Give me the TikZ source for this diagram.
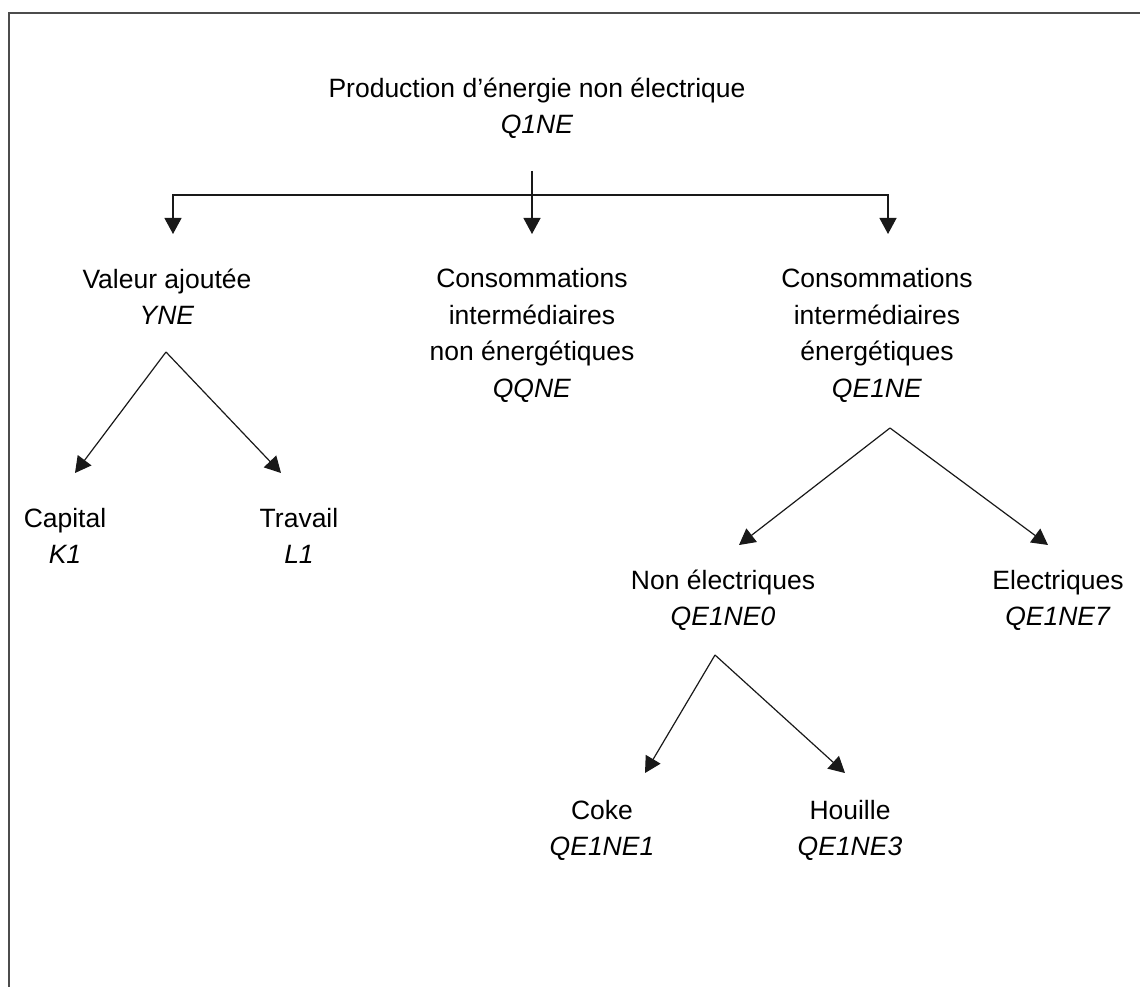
\documentclass[tikz,border=0pt]{standalone}
\usepackage{fontspec}
\setmainfont{Liberation Sans}
\usetikzlibrary{arrows.meta}
\begin{document}
\begin{tikzpicture}[x=1pt,y=-1pt,
  lbl/.style={inner sep=0pt,align=center,font=\fontsize{26.5}{36.5}\selectfont},
  link/.style={line width=1.2pt,draw=black!90},
  arr/.style={link,-{Triangle[length=16pt,width=17pt]}},
  frame/.style={line width=2pt,draw=black!70}]
\useasboundingbox (0,0) rectangle (1140,987);
% page frame (top and left edges)
\draw[frame] (9,987) -- (9,13) -- (1140,13);

% labels
\node[lbl] (prod)  at (537,108)  {\strut Production d’énergie non électrique\\\strut\textit{Q1NE}};
\node[lbl] (va)    at (167,299)  {\strut Valeur ajoutée\\\strut\textit{YNE}};
\node[lbl] (cine)  at (532,335)  {\strut Consommations\\\strut intermédiaires\\\strut non énergétiques\\\strut\textit{QQNE}};
\node[lbl] (cie)   at (877,335)  {\strut Consommations\\\strut intermédiaires\\\strut énergétiques\\\strut\textit{QE1NE}};
\node[lbl] (cap)   at (65,538)   {\strut Capital\\\strut\textit{K1}};
\node[lbl] (trav)  at (299,538)  {\strut Travail\\\strut\textit{L1}};
\node[lbl] (nonel) at (723,600)  {\strut Non électriques\\\strut\textit{QE1NE0}};
\node[lbl] (elec)  at (1058,600) {\strut Electriques\\\strut\textit{QE1NE7}};
\node[lbl] (coke)  at (602,830)  {\strut Coke\\\strut\textit{QE1NE1}};
\node[lbl] (houil) at (850,830)  {\strut Houille\\\strut\textit{QE1NE3}};

% branching points and arrow ends
\coordinate (prod-out) at (532,171);
\coordinate (split)    at (532,195);
\coordinate (va-in)    at (173,234);
\coordinate (cine-in)  at (532,234);
\coordinate (cie-in)   at (888,234);
\coordinate (va-out)   at (166,352);
\coordinate (cap-in)   at (75,473);
\coordinate (trav-in)  at (281,473);
\coordinate (cie-out)  at (890,428);
\coordinate (nonel-in) at (739,545);
\coordinate (elec-in)  at (1048,545);
\coordinate (nonel-out) at (715,655);
\coordinate (coke-in)  at (645,773);
\coordinate (houil-in) at (845,773);

% first level
\draw[arr] (prod-out) -- (cine-in);
\draw[arr] (split) -| (va-in);
\draw[arr] (split) -| (cie-in);
% value added
\draw[arr] (va-out) -- (cap-in);
\draw[arr] (va-out) -- (trav-in);
% energy inputs
\draw[arr] (cie-out) -- (nonel-in);
\draw[arr] (cie-out) -- (elec-in);
% non-electric energy
\draw[arr] (nonel-out) -- (coke-in);
\draw[arr] (nonel-out) -- (houil-in);
\end{tikzpicture}
\end{document}
